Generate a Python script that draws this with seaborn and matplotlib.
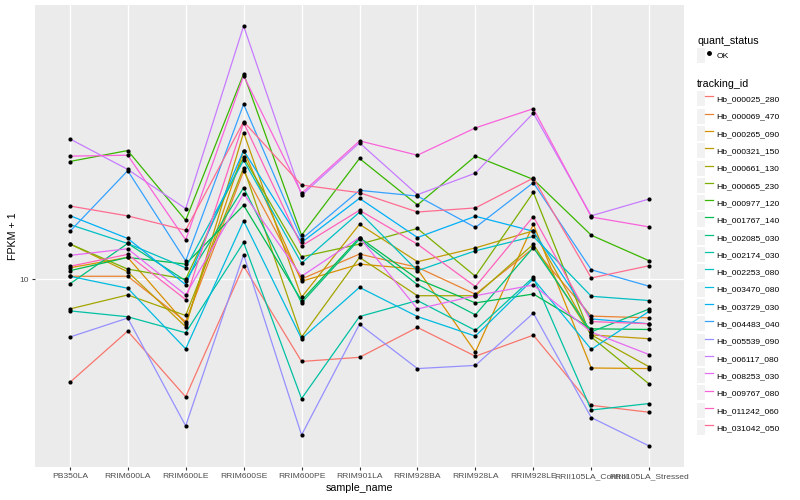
import numpy as np
import pandas as pd
import matplotlib
matplotlib.use('Agg')
import matplotlib.pyplot as plt
import seaborn as sns
from matplotlib.lines import Line2D
from matplotlib.patches import Patch
from matplotlib.legend_handler import HandlerTuple
from matplotlib.ticker import NullLocator

# ============================================================
# DATA (FPKM + 1)
# ============================================================
samples = ['PB350LA', 'RRIM600LA', 'RRIM600LE', 'RRIM600SE', 'RRIM600PE',
           'RRIM901LA', 'RRIM928BA', 'RRIM928LA', 'RRIM928LE',
           'RRII105LA_Control', 'RRII105LA_Stressed']

tracking_ids = ['Hb_000025_280', 'Hb_000069_470', 'Hb_000265_090', 'Hb_000321_150',
                'Hb_000661_130', 'Hb_000665_230', 'Hb_000977_120', 'Hb_001767_140',
                'Hb_002085_030', 'Hb_002174_030', 'Hb_002253_080', 'Hb_003470_080',
                'Hb_003729_030', 'Hb_004483_040', 'Hb_005539_090', 'Hb_006117_080',
                'Hb_008253_030', 'Hb_009767_080', 'Hb_011242_060', 'Hb_031042_050']

Hb_000025_280 = [5.50, 7.40, 5.06, 10.78, 6.21, 6.36, 7.56, 6.40, 7.23, 4.82, 4.63]
Hb_000069_470 = [10.16, 10.16, 7.82, 18.65, 10.00, 11.55, 10.70, 9.16, 11.95, 8.07, 7.99]
Hb_000265_090 = [10.67, 11.33, 7.72, 21.01, 9.87, 10.90, 10.59, 6.56, 13.72, 5.98, 5.96]
Hb_000321_150 = [12.25, 10.43, 7.59, 23.31, 9.00, 13.72, 11.05, 11.97, 13.21, 7.24, 7.08]
Hb_000661_130 = [8.41, 9.12, 8.10, 19.02, 7.15, 11.33, 9.08, 9.08, 12.23, 7.24, 6.02]
Hb_000665_230 = [12.25, 10.59, 10.00, 20.22, 11.37, 12.23, 13.39, 10.16, 16.50, 7.15, 5.45]
Hb_000977_120 = [19.72, 21.01, 14.04, 32.73, 12.88, 20.07, 15.34, 20.34, 17.78, 12.88, 11.11]
Hb_001767_140 = [10.49, 11.33, 10.90, 15.31, 8.83, 12.71, 10.00, 8.71, 9.17, 7.50, 7.47]
Hb_002085_030 = [9.72, 12.28, 9.90, 16.95, 8.71, 12.59, 9.68, 8.13, 12.00, 7.37, 8.41]
Hb_002174_030 = [8.32, 8.04, 7.33, 12.35, 5.01, 8.05, 8.83, 7.43, 10.10, 4.69, 4.87]
Hb_002253_080 = [13.70, 12.28, 10.67, 19.87, 10.96, 14.71, 10.49, 11.77, 12.79, 9.05, 8.83]
Hb_003470_080 = [10.16, 9.48, 6.68, 13.99, 7.08, 9.53, 8.05, 7.19, 10.00, 6.66, 8.30]
Hb_003729_030 = [14.43, 12.64, 9.68, 21.01, 12.35, 15.94, 12.71, 14.37, 13.18, 7.94, 7.72]
Hb_004483_040 = [13.16, 18.70, 11.11, 27.46, 12.59, 16.69, 16.15, 13.47, 17.45, 10.55, 9.59]
Hb_005539_090 = [7.15, 7.98, 4.28, 11.51, 4.06, 7.70, 5.96, 6.07, 8.21, 4.49, 3.81]
Hb_006117_080 = [22.48, 18.84, 15.02, 43.15, 16.22, 21.97, 16.28, 18.44, 26.08, 14.41, 15.88]
Hb_008253_030 = [11.46, 11.91, 9.12, 16.38, 10.16, 12.71, 8.41, 9.08, 9.66, 7.36, 6.46]
Hb_009767_080 = [20.34, 20.45, 12.54, 32.36, 16.41, 22.22, 20.45, 23.95, 26.76, 14.31, 13.51]
Hb_011242_060 = [10.76, 11.53, 8.88, 24.69, 12.11, 14.88, 12.23, 9.57, 14.35, 7.82, 7.72]
Hb_031042_050 = [15.25, 14.40, 13.26, 24.83, 17.21, 16.47, 14.73, 15.08, 17.92, 10.06, 10.80]

series = [Hb_000025_280, Hb_000069_470, Hb_000265_090, Hb_000321_150, Hb_000661_130,
          Hb_000665_230, Hb_000977_120, Hb_001767_140, Hb_002085_030, Hb_002174_030,
          Hb_002253_080, Hb_003470_080, Hb_003729_030, Hb_004483_040, Hb_005539_090,
          Hb_006117_080, Hb_008253_030, Hb_009767_080, Hb_011242_060, Hb_031042_050]

# ggplot2 default hue palette for 20 levels
colors = ['#F8766D', '#EA8331', '#D89000', '#C09B00', '#A3A500', '#7CAE00', '#39B600',
          '#00BB4E', '#00BF7D', '#00C1A3', '#00BFC4', '#00BAE0', '#00B0F6', '#35A2FF',
          '#9590FF', '#C77CFF', '#E76BF3', '#FA62DB', '#FF62BC', '#FF6C91']

rows = []
for tid, vals in zip(tracking_ids, series):
    for s, v in zip(samples, vals):
        rows.append({'sample_name': s, 'tracking_id': tid, 'fpkm': v, 'quant_status': 'OK'})
df = pd.DataFrame(rows)

# ============================================================
# PLOT
# ============================================================
plt.rcParams['font.family'] = ['Liberation Sans', 'DejaVu Sans']

fig = plt.figure(figsize=(8, 5), dpi=100)
ax = fig.add_axes([35/800, 1 - 467/500, (684 - 35)/800, (467 - 5)/500])
ax.set_facecolor('#EBEBEB')

sns.lineplot(data=df, x='sample_name', y='fpkm', hue='tracking_id',
             hue_order=tracking_ids, palette=colors, sort=False, estimator=None,
             linewidth=0.9, legend=False, ax=ax)
sns.scatterplot(data=df, x='sample_name', y='fpkm', color='black', s=9,
                linewidth=0, legend=False, ax=ax, zorder=3)

ax.set_yscale('log')
ax.margins(y=0.05)
ax.set_xlim(-0.6, len(samples) - 0.4)
ax.set_yticks([10])
ax.set_yticklabels(['10'])
ax.yaxis.set_minor_locator(NullLocator())

ax.grid(True, color='white', linewidth=1.0)
ax.set_axisbelow(True)
for sp in ax.spines.values():
    sp.set_visible(False)
ax.tick_params(axis='both', colors='#333333', length=2.5, width=0.8,
               labelsize=6.1, labelcolor='#4D4D4D', pad=2)

ax.set_xlabel('sample_name', fontsize=7.7, labelpad=2)
ax.set_ylabel('FPKM + 1', fontsize=7.7, labelpad=1)

# legends, ggplot style
hmap = {tuple: HandlerTuple(ndivide=None)}
key_bg = '#F2F2F2'
leg_kw = dict(handler_map=hmap, loc='upper left', bbox_transform=fig.transFigure,
              frameon=False, fontsize=6.1, title_fontsize=7.7, handlelength=1.9,
              handleheight=2.35, handletextpad=0.4, borderpad=0, borderaxespad=0,
              alignment='left', labelspacing=0.27)

ok_handle = (Patch(facecolor=key_bg, edgecolor='none'),
             Line2D([], [], marker='o', color='black', linestyle='none', markersize=2.5))
leg1 = ax.legend(handles=[ok_handle], labels=['OK'], title='quant_status',
                 bbox_to_anchor=(697/800, 1 - 36/500), **leg_kw)
ax.add_artist(leg1)

id_handles = [(Patch(facecolor=key_bg, edgecolor='none'),
               Line2D([], [], color=c, linewidth=0.9)) for c in colors]
ax.legend(handles=id_handles, labels=tracking_ids, title='tracking_id',
          bbox_to_anchor=(697/800, 1 - 79/500), **leg_kw)

plt.savefig('out.png', dpi=100)
plt.close()
